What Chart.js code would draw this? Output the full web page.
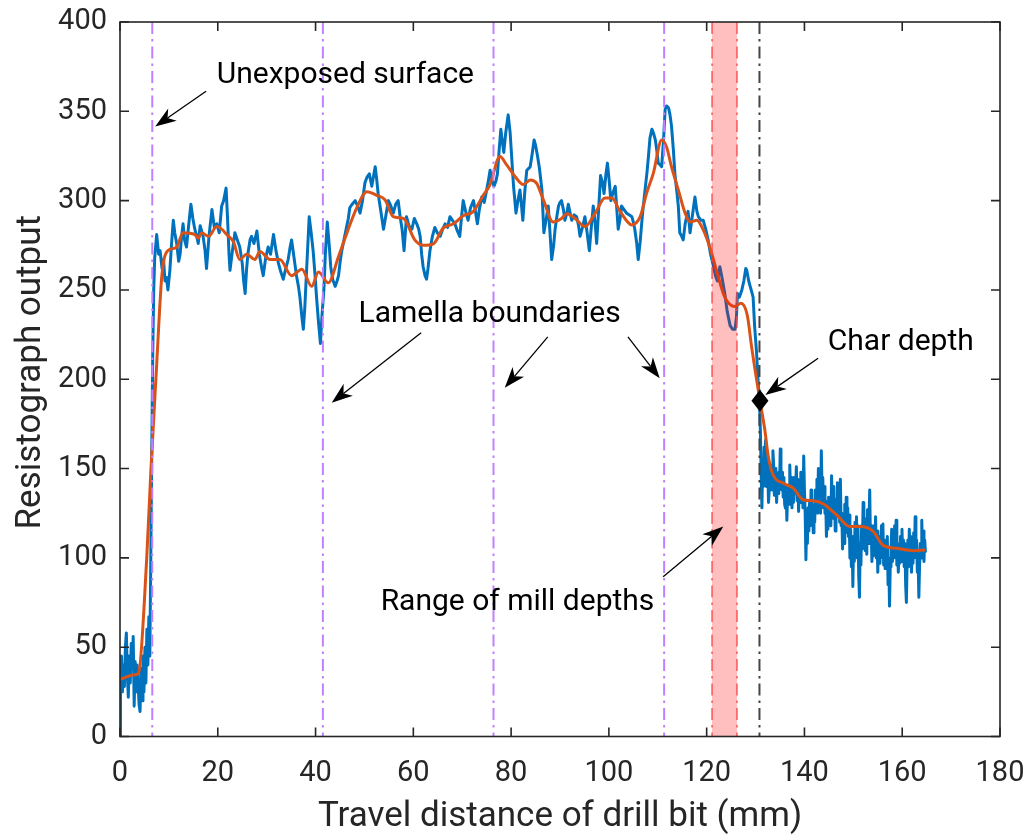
<!DOCTYPE html>
<html><head><meta charset="utf-8">
<script src="https://cdn.jsdelivr.net/npm/chart.js@4.4.1/dist/chart.umd.min.js"></script>
<style>html,body{margin:0;padding:0;background:#fff;}#wrap{width:1027px;height:834px;position:relative;}</style>
</head><body><div id="wrap"><canvas id="c"></canvas></div>
<script>
// ---- DATA ----
const rawSignal = [
[0,0],[0.1,30],[0.3,45],[0.5,25],[0.7,40],[0.9,28],[1.1,50],[1.3,58],[1.5,35],[1.7,22],[1.9,45],[2.1,30],[2.3,52],[2.5,38],[2.7,56],[2.9,17],[3.1,42],[3.3,25],[3.5,40],[3.7,30],[3.9,18],[4.1,14],[4.3,38],[4.5,20],[4.7,45],[4.9,25],[5.1,50],[5.3,30],[5.5,60],[5.7,40],[5.9,67],[6.1,45],[6.3,100],[6.5,160],[6.7,215],[6.9,250],[7.1,268],
[7.5,281],[7.9,270],[8.2,272],[8.6,262],[8.9,267],[9.2,255],[9.5,257],[9.8,250],[10.2,261],[10.6,278],[10.9,289],[11.2,282],[11.6,276],[12.0,266],[12.3,270],[12.6,280],[12.9,287],[13.2,278],[13.6,274],[14.0,285],[14.5,298],[14.9,290],[15.3,284],[15.7,280],[16.0,276],[16.4,286],[17.0,280],[17.4,272],[17.7,262],[18.2,280],[18.8,295],[19.3,285],[19.8,287],[20.3,282],[20.8,297],[21.2,300],[21.7,307],[22.0,290],[22.3,270],[22.5,261],[23.0,272],[23.5,282],[24.0,278],[24.5,274],[25.0,265],[25.3,255],[25.6,248],[25.9,262],[26.2,271],[26.6,278],[26.9,280],[27.4,276],[28.0,283],
[28.5,270],[29.0,262],[29.3,258],[29.8,268],[30.3,274],[30.8,270],[31.4,281],[31.9,272],[32.4,265],[32.9,260],[33.4,256],[33.9,262],[34.4,267],[34.8,274],[35.1,278],[35.6,268],[36.1,258],[36.5,252],[36.8,246],[37.2,235],[37.5,228],[37.8,240],[38.2,263],[38.7,291],[39.1,282],[39.5,272],[39.9,258],[40.2,246],[40.6,232],[41.0,220],[41.3,235],[41.7,250],[42.0,270],[42.4,288],[42.8,275],[43.1,263],[43.5,256],[44.0,252],[44.4,255],[44.7,258],[45.0,265],[45.3,271],[45.8,278],[46.4,286],[46.7,290],[47.0,296],[47.5,298],[48.1,300],[48.6,297],[49.1,293],[49.6,300],[50.1,310],[50.5,313],[51.0,315],[51.5,308],[52.2,319],[52.5,312],[52.8,304],[53.3,295],[53.9,284],[54.4,292],[54.9,300],[55.4,297],[55.9,293],[56.4,298],[56.9,300],
[57.3,291],[57.7,284],[58.1,272],[58.6,291],[59.1,286],[59.7,284],[60.2,290],[60.7,287],[61.1,284],[61.4,280],[61.7,270],[62.0,263],[62.4,258],[62.7,256],[63.0,262],[63.4,272],[63.9,280],[64.4,285],[64.9,282],[65.5,280],[66.0,284],[66.5,287],[67.0,285],[67.5,291],[68.0,289],[68.5,287],[69.0,283],[69.5,280],[69.9,292],[70.2,300],[70.7,294],[71.2,289],[71.7,296],[72.3,300],[72.7,294],[73.1,287],[73.5,295],[74.0,302],[74.5,299],[75.0,306],[75.4,312],[75.7,317],[76.1,312],[76.5,308],[76.9,311],[77.2,315],[77.6,330],[77.9,340],[78.2,333],[78.5,327],[78.9,338],[79.4,348],[79.8,338],[80.1,325],[80.5,308],[81.0,293],[81.4,300],[81.8,306],[82.1,298],[82.4,289],[82.8,305],[83.2,317],[83.6,318],[83.9,319],[84.3,326],[84.7,334],[85.0,331],[85.4,325],[85.8,318],[86.3,306],[86.7,282],
[87.2,290],[87.6,297],[88.0,280],[88.3,267],[88.7,275],[89.0,284],[89.4,292],[89.7,297],[90.0,299],[90.3,300],[90.7,295],[91.0,289],[91.4,293],[91.7,298],[92.0,294],[92.4,289],[92.9,292],[93.4,291],[93.8,286],[94.1,280],[94.6,285],[95.1,291],[95.5,283],[96.0,272],[96.4,285],[96.8,297],[97.2,287],[97.5,276],[97.9,295],[98.3,314],[98.7,310],[99.0,304],[99.4,315],[99.7,321],[100.1,310],[100.4,300],[100.9,305],[101.3,308],[101.6,296],[101.9,284],[102.3,290],[102.6,297],[103.1,295],[103.6,293],[104.2,292],[104.7,291],[105.0,288],[105.3,284],[105.7,276],[106.0,267],[106.4,277],[106.7,287],[107.0,296],[107.4,306],[107.8,316],[108.1,325],[108.4,335],[108.8,340],[109.1,338],[109.5,334],[109.8,328],[110.1,321],[110.5,320],[110.8,319],[111.2,335],[111.5,351],[111.8,353],[112.2,352],[112.5,348],[112.8,342],[113.2,328],[113.5,315],[113.9,305],[114.2,297],[114.5,282],[114.9,280],[115.2,278],[115.6,287],[115.9,291],[116.2,294],[116.6,282],
[117.0,290],[117.3,296],[117.6,302],[118.0,294],[118.3,291],[118.8,289],[119.3,289],[119.8,284],[120.3,278],[120.8,270],[121.4,263],[121.8,258],[122.2,255],[122.7,263],[123.2,256],[123.7,248],[124.2,238],[124.8,230],[125.3,228],[125.8,228],[126.1,235],[126.3,248],[126.7,246],[127.2,250],[127.6,255],[128.0,262],[128.2,261],[128.6,255],[128.9,252],[129.2,249],[129.5,246],[129.8,230],[130.2,215],[130.5,200],[130.8,188],
[131.0,170],[131.15,147],[131.3,128],[131.45,152],[131.6,140],[131.75,162],[131.9,158],[132.05,166],[132.2,140],[132.35,156],[132.5,150],[132.65,131],[132.8,138],[132.95,152],[133.1,140],[133.25,150],[133.4,138],[133.55,160],[133.7,152],[133.85,135],[134.0,145],[134.15,150],[134.3,131],[134.45,142],[134.6,136],[134.75,148],[134.9,140],[135.05,161],[135.2,150],[135.35,138],[135.5,148],[135.65,134],[135.8,145],[135.95,130],[136.1,128],[136.25,140],[136.4,121],[136.55,135],[136.7,140],[136.85,130],[137.0,152],[137.15,138],[137.3,145],[137.45,128],[137.6,140],[137.75,131],[137.9,145],[138.05,136],[138.2,140],[138.35,151],[138.5,132],[138.65,144],[138.8,126],[138.95,140],[139.1,131],[139.25,148],[139.4,137],[139.55,145],[139.7,128],[139.85,157],[140.0,138],[140.15,125],[140.3,99],[140.45,120],[140.6,108],[140.75,128],[140.9,115],[141.05,131],[141.2,118],[141.35,138],[141.5,122],[141.65,130],[141.8,114],[141.95,126],[142.1,120],[142.25,138],[142.4,130],[142.55,144],[142.7,125],[142.85,150],[143.0,135],[143.15,142],[143.3,125],[143.45,160],[143.6,138],[143.75,145],[143.9,128],[144.05,140],[144.2,125],[144.35,132],[144.5,112],[144.65,128],[144.8,116],[144.95,134],[145.1,120],[145.25,130],[145.4,118],[145.55,146],[145.7,128],[145.85,140],[146.0,122],[146.15,133],[146.3,115],[146.45,130],[146.6,123],[146.75,142],[146.9,126],[147.05,135],[147.2,120],[147.35,144],[147.5,118],[147.65,125],[147.8,105],[147.95,124],[148.1,108],[148.25,130],[148.4,114],[148.55,134],[148.7,118],[148.85,128],[149.0,112],[149.15,124],[149.3,100],[149.45,116],[149.6,95],[149.75,112],[149.9,84],[150.05,110],[150.2,98],[150.35,120],[150.5,105],[150.65,123],[150.8,100],[150.95,118],[151.1,90],[151.25,78],[151.4,108],[151.55,96],[151.7,118],[151.85,105],[152.0,131],[152.15,110],[152.3,122],[152.45,104],[152.6,116],[152.75,102],[152.9,127],[153.05,108],[153.2,120],[153.35,138],[153.5,110],[153.65,118],[153.8,98],[153.95,112],[154.1,101],[154.25,118],[154.4,106],[154.55,123],[154.7,100],[154.85,115],[155.0,92],[155.15,110],[155.3,97],[155.45,112],[155.6,100],[155.75,118],[155.9,104],[156.05,119],[156.2,96],[156.35,110],[156.5,94],[156.65,108],[156.8,101],[156.95,112],[157.1,85],[157.25,100],[157.4,73],[157.55,95],[157.7,104],[157.85,116],[158.0,98],[158.15,110],[158.3,100],[158.45,118],[158.6,104],[158.75,121],[158.9,96],[159.05,108],[159.2,92],[159.35,106],[159.5,97],[159.65,112],[159.8,98],[159.95,116],[160.1,100],[160.25,110],[160.4,95],[160.55,108],[160.7,85],[160.85,75],[161.0,98],[161.15,110],[161.3,95],[161.45,116],[161.6,100],[161.75,112],[161.9,92],[162.05,105],[162.2,97],[162.35,114],[162.5,100],[162.65,123],[162.8,104],[162.95,110],[163.1,92],[163.25,100],[163.4,78],[163.55,96],[163.7,108],[163.85,100],[164.0,121],[164.15,102],[164.3,115],[164.45,98],[164.6,110],[164.75,103]
];
const smoothSignal = [
[0,32],[1,33],[2,34],[3,34.5],[3.8,35.5],[5.45,99],[6.3,148],[7.4,203],[8.5,256],[9.0,267],[9.8,272],[11.6,274],[12.9,282],[15.3,281],[16.0,279],[16.7,282],[18.1,280],[19.8,285.5],[22.2,280],[23.2,277],[24.5,267],[25.9,270],[27.6,267],[28.6,271.5],[30.7,267],[32.7,267],[35.1,258],[37.2,261.6],[39.2,252],[40.6,260],[42.6,254],[44.7,268.7],[46.4,281.8],[48.4,295.8],[50.5,305],[52.5,303],[54.2,300.5],[55.9,291],[58.0,290],[60.3,278],[62.0,275],[64.1,275.8],[66.1,284.6],[68.2,287],[70.2,291.5],[72.3,294],[74.3,303],[75.7,309],[77.7,324.7],[79.1,320],[80.8,313.5],[82.5,309],[83.9,311.6],[85.2,309.8],[86.6,300.4],[88.6,288],[90.3,290],[91.4,292.6],[93.1,290],[95.1,285.5],[97.2,293],[99.2,301.4],[100.6,301.4],[102.3,294],[104.7,286.4],[106.4,291],[107.7,304],[109.1,315.4],[110.8,334],[111.8,330],[112.8,319],[114.2,306],[115.6,293],[116.6,288],[118.0,289],[119.3,283.6],[120.7,273.4],[122.0,261],[123.7,246],[125.8,240.7],[127.0,242.6],[128.3,236],[129.2,218],[130.9,188],[131.9,171.6],[132.6,156.7],[133.6,146.4],[135.7,141.8],[137.7,139],[139.8,132.4],[141.8,132],[143.9,130.2],[146.6,124],[149.3,117.5],[151.4,117.5],[154.1,114.7],[156.1,107],[158.9,105.4],[162.3,104],[164.7,104.4]
];
const charDepthPoint = [[130.9, 188]];
const lamellaBoundaries = [6.6, 41.5, 76.4, 111.3];
const millDepthRange = [121.1, 126.2];
const charDepthLine = [130.8];
const xAxisRange = [0, 180], xTickStep = 20;
const yAxisRange = [0, 400], yTickStep = 50;
const xTitle = 'Travel distance of drill bit (mm)';
const yTitle = 'Resistograph output';
const notes = [
  {text:'Unexposed surface', x:46.1, y:366},
  {text:'Lamella boundaries', x:75.6, y:232.3},
  {text:'Char depth', x:159.7, y:216.4},
  {text:'Range of mill depths', x:81.3, y:70.8}
];
const arrows = [
  [17.6,361.2, 7.2,341.5],
  [61.6,226, 43.3,186.9],
  [87.5,223.7, 78.7,195.2],
  [103.9,223.7, 110.4,200.5],
  [142.8,211.8, 132.0,191.2],
  [111.1,89.5, 123.4,117.5]
];

// ---- STYLE ----
const FONT = 'Roboto, "Liberation Sans", Arial, sans-serif';
const AX = '#262626';

function drawArrow(ctx, x1, y1, x2, y2) {
  const dx = x2 - x1, dy = y2 - y1, len = Math.hypot(dx, dy);
  const ux = dx / len, uy = dy / len, nx = -uy, ny = ux;
  const L = 21, W = 7.5, N = 6;
  ctx.beginPath();
  ctx.moveTo(x1, y1);
  ctx.lineTo(x2 - (L - N) * ux, y2 - (L - N) * uy);
  ctx.lineWidth = 1.3; ctx.strokeStyle = '#000'; ctx.stroke();
  ctx.beginPath();
  ctx.moveTo(x2, y2);
  ctx.lineTo(x2 - L * ux + W * nx, y2 - L * uy + W * ny);
  ctx.lineTo(x2 - (L - N) * ux, y2 - (L - N) * uy);
  ctx.lineTo(x2 - L * ux - W * nx, y2 - L * uy - W * ny);
  ctx.closePath(); ctx.fillStyle = '#000'; ctx.fill();
}

const overlay = {
  id: 'overlay',
  afterDatasetsDraw(chart) {
    const {ctx, chartArea: a, scales: {x, y}} = chart;
    ctx.save();
    ctx.beginPath(); ctx.rect(a.left, a.top, a.right - a.left, a.bottom - a.top); ctx.clip();
    ctx.lineWidth = 2; ctx.setLineDash([12, 5, 2.5, 5]);
    ctx.strokeStyle = '#C080FF';
    lamellaBoundaries.forEach(v => {
      const px = x.getPixelForValue(v);
      ctx.beginPath(); ctx.moveTo(px, a.top); ctx.lineTo(px, a.bottom); ctx.stroke();
    });
    ctx.strokeStyle = '#444';
    charDepthLine.forEach(v => {
      const px = x.getPixelForValue(v);
      ctx.beginPath(); ctx.moveTo(px, a.top); ctx.lineTo(px, a.bottom); ctx.stroke();
    });
    const b0 = x.getPixelForValue(millDepthRange[0]), b1 = x.getPixelForValue(millDepthRange[1]);
    ctx.setLineDash([]);
    ctx.fillStyle = 'rgba(255,0,0,0.25)';
    ctx.fillRect(b0, a.top, b1 - b0, a.bottom - a.top);
    ctx.lineWidth = 1.5; ctx.setLineDash([12, 5, 2.5, 5]);
    ctx.strokeStyle = 'rgba(255,70,70,0.9)';
    [b0, b1].forEach(px => { ctx.beginPath(); ctx.moveTo(px, a.top); ctx.lineTo(px, a.bottom); ctx.stroke(); });
    ctx.restore();

    // char depth diamond, on top of its line
    ctx.save();
    const dpx = x.getPixelForValue(charDepthPoint[0][0]), dpy = y.getPixelForValue(charDepthPoint[0][1]);
    ctx.beginPath();
    ctx.moveTo(dpx, dpy - 11); ctx.lineTo(dpx + 8.5, dpy); ctx.lineTo(dpx, dpy + 11); ctx.lineTo(dpx - 8.5, dpy);
    ctx.closePath(); ctx.fillStyle = '#000'; ctx.fill();
    ctx.restore();

    // frame and inward ticks
    ctx.save();
    ctx.strokeStyle = AX; ctx.lineWidth = 1.6; ctx.setLineDash([]);
    ctx.strokeRect(a.left, a.top, a.right - a.left, a.bottom - a.top);
    const T = 9;
    ctx.beginPath();
    x.ticks.forEach(t => {
      const px = x.getPixelForValue(t.value);
      ctx.moveTo(px, a.bottom); ctx.lineTo(px, a.bottom - T);
      ctx.moveTo(px, a.top); ctx.lineTo(px, a.top + T);
    });
    y.ticks.forEach(t => {
      const py = y.getPixelForValue(t.value);
      ctx.moveTo(a.left, py); ctx.lineTo(a.left + T, py);
      ctx.moveTo(a.right, py); ctx.lineTo(a.right - T, py);
    });
    ctx.stroke();
    ctx.restore();

    // annotations
    ctx.save();
    ctx.fillStyle = '#000';
    ctx.font = '30px ' + FONT;
    ctx.textAlign = 'center'; ctx.textBaseline = 'alphabetic';
    notes.forEach(n => ctx.fillText(n.text, x.getPixelForValue(n.x), y.getPixelForValue(n.y)));
    arrows.forEach(r => drawArrow(ctx, x.getPixelForValue(r[0]), y.getPixelForValue(r[1]), x.getPixelForValue(r[2]), y.getPixelForValue(r[3])));
    ctx.restore();

    // axis titles
    ctx.save();
    ctx.fillStyle = AX; ctx.font = '35px ' + FONT;
    ctx.textAlign = 'center'; ctx.textBaseline = 'alphabetic';
    ctx.fillText(xTitle, (a.left + a.right) / 2, 826);
    ctx.translate(40, (a.top + a.bottom) / 2 - 7);
    ctx.rotate(-Math.PI / 2);
    ctx.fillText(yTitle, 0, 0);
    ctx.restore();
  }
};

new Chart(document.getElementById('c'), {
  type: 'scatter',
  data: {
    datasets: [
      {data: charDepthPoint.map(p => ({x: p[0], y: p[1]})), pointRadius: 0, showLine: false, order: 0},
      {data: smoothSignal.map(p => ({x: p[0], y: p[1]})), showLine: true, borderColor: '#D95319', borderWidth: 3,
       pointRadius: 0, cubicInterpolationMode: 'monotone', order: 1},
      {data: rawSignal.map(p => ({x: p[0], y: p[1]})), showLine: true, borderColor: '#0072BD', borderWidth: 3,
       pointRadius: 0, tension: 0, borderJoinStyle: 'round', order: 2}
    ]
  },
  options: {
    responsive: true, maintainAspectRatio: false, animation: false,
    layout: {padding: {left: 0, right: 27, top: 22, bottom: 0}},
    plugins: {legend: {display: false}, tooltip: {enabled: false}},
    scales: {
      x: {type: 'linear', min: xAxisRange[0], max: xAxisRange[1],
          grid: {display: false, drawTicks: false}, border: {display: false},
          ticks: {stepSize: xTickStep, color: AX, font: {family: FONT, size: 29}, padding: 20, maxRotation: 0},
          afterFit: s => { s.height = 97.5; s.paddingLeft = 0; s.paddingRight = 0; }},
      y: {type: 'linear', min: yAxisRange[0], max: yAxisRange[1],
          grid: {display: false, drawTicks: false}, border: {display: false},
          ticks: {stepSize: yTickStep, color: AX, font: {family: FONT, size: 29}, padding: 13},
          afterFit: s => { s.width = 120; s.paddingTop = 0; s.paddingBottom = 0; }}
    }
  },
  plugins: [overlay]
});
</script>
</body></html>
